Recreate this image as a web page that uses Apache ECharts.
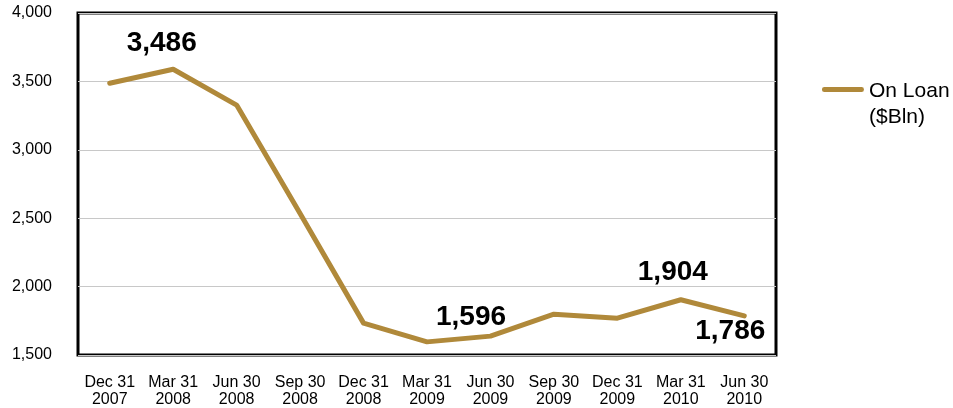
<!DOCTYPE html>
<html>
<head>
<meta charset="utf-8">
<script src="https://cdn.jsdelivr.net/npm/echarts@6/dist/echarts.min.js"></script>
<style>
html,body{margin:0;padding:0;background:#fff;}
#c{width:953px;height:408px;}
</style>
</head>
<body>
<div id="c"></div>
<script>
const categories = ['Dec 31\n2007','Mar 31\n2008','Jun 30\n2008','Sep 30\n2008','Dec 31\n2008','Mar 31\n2009','Jun 30\n2009','Sep 30\n2009','Dec 31\n2009','Mar 31\n2010','Jun 30\n2010'];
const onLoan = [3486, 3589, 3327, 2535, 1733, 1596, 1638, 1798, 1769, 1904, 1786];
const seriesName = 'On Loan\n($Bln)';
const labelledPoints = [0, 5, 9, 10];
const yMin = 1500, yMax = 4000, yStep = 500;

const labelCfg = {
  0: {position: 'top', offset: [52, -21]},
  5: {position: 'top', offset: [44, -5]},
  9: {position: 'top', offset: [-8, -8]},
  10: {position: 'bottom', offset: [-14, -4]}
};

const data = onLoan.map((v, i) => {
  const d = {value: v};
  if (labelledPoints.includes(i)) {
    d.label = Object.assign({show: true}, labelCfg[i]);
  }
  return d;
});

const FONT = 'Liberation Sans, Arial, sans-serif';
const chart = echarts.init(document.getElementById('c'), null, {renderer: 'canvas'});
chart.setOption({
  animation: false,
  backgroundColor: '#fff',
  textStyle: {fontFamily: FONT},
  grid: {left: 78, top: 13, right: 177, bottom: 52, show: true, borderColor: '#000', borderWidth: 3, backgroundColor: 'transparent'},
  legend: {
    left: 817, top: 73, orient: 'vertical',
    itemWidth: 42, itemHeight: 34, itemGap: 4,
    textStyle: {fontSize: 21, color: '#000', lineHeight: 26, fontFamily: FONT},
    data: [{name: seriesName, icon: 'path://M2.5,0 L39.5,0 A2.5,2.5 0 0 1 39.5,5 L2.5,5 A2.5,2.5 0 0 1 2.5,0 Z M0,34 L0.01,34 L0.01,34.01 Z', itemStyle: {color: '#B0893A', opacity: 1}}]
  },
  xAxis: {
    type: 'category', data: categories, boundaryGap: true,
    axisLine: {show: false}, axisTick: {show: false},
    axisLabel: {color: '#000', fontSize: 16, lineHeight: 17, margin: 19, interval: 0, fontFamily: FONT}
  },
  yAxis: {
    type: 'value', min: yMin, max: yMax, interval: yStep,
    axisLine: {show: false}, axisTick: {show: false},
    splitLine: {show: true, lineStyle: {color: '#c8c8c8', width: 1}},
    axisLabel: {color: '#000', fontSize: 16, margin: 26, formatter: v => v.toLocaleString('en-US'), fontFamily: FONT}
  },
  series: [{
    name: seriesName, type: 'line', data: data,
    symbol: 'circle', symbolSize: 1, showSymbol: true,
    itemStyle: {color: '#B0893A'},
    color: '#B0893A',
    lineStyle: {color: '#B0893A', width: 5, cap: 'round', join: 'round'},
    label: {show: false, color: '#000', fontSize: 28, fontWeight: 'bold', formatter: p => p.value.toLocaleString('en-US'), fontFamily: FONT}
  }]
});
</script>
</body>
</html>
